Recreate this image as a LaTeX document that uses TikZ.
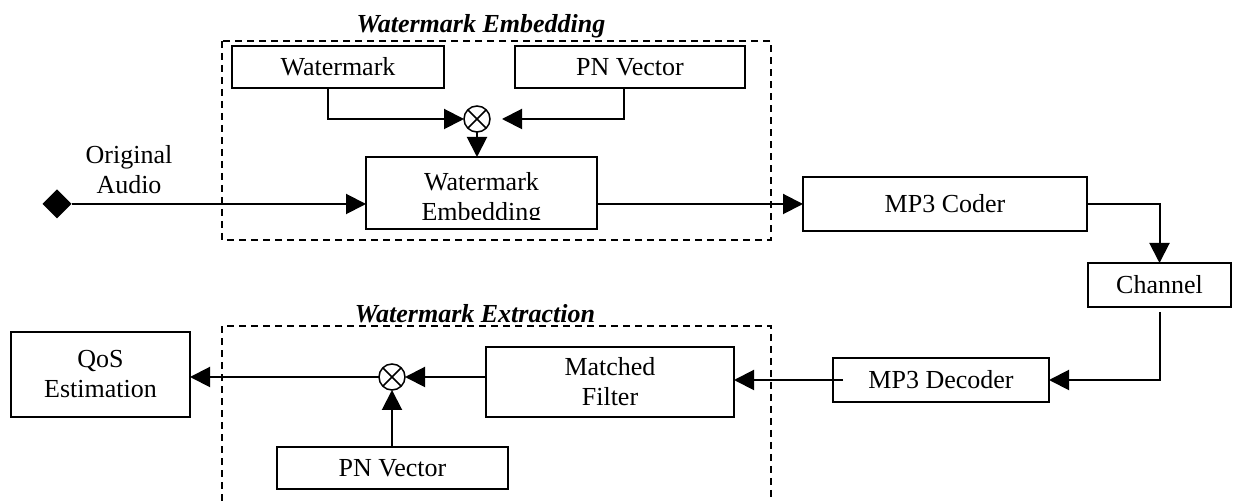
\documentclass[tikz,border=0pt]{standalone}
\usepackage{fontspec}
\setmainfont{Liberation Serif}
\usetikzlibrary{arrows.meta,shapes.geometric,calc}
\begin{document}
\begin{tikzpicture}[x=0.5pt,y=-0.5pt,
  every node/.style={font=\fontsize{13}{15}\selectfont, inner sep=0pt, outer sep=0pt},
  blk/.style={draw, line width=1pt, align=center},
  mult/.style={circle, draw, line width=0.75pt, minimum size=13pt},
  conn/.style={line width=1pt},
  arr/.style={conn, -{Triangle[length=10pt,width=10pt]}},
  grp/.style={dash pattern=on 3.5pt off 2.5pt, line width=0.75pt},
  ttl/.style={font=\fontsize{13}{15}\selectfont\bfseries\itshape, anchor=base}]
\useasboundingbox (0,0) rectangle (1233,501);

% group frames
\draw[grp] (222,41) rectangle (771,240);
\draw[grp] (222,501) -- (222,326) -- (771,326) -- (771,501);
\node[ttl] (t1) at (481,33) {Watermark Embedding};
\node[ttl] (t2) at (475,323) {Watermark Extraction};

% embedding part
\node[blk, minimum width=106pt, minimum height=21pt] (wm) at (338,67) {Watermark};
\node[blk, minimum width=115pt, minimum height=21pt] (pn1) at (630,67) {PN Vector};
\node[mult] (m1) at (477,119) {};
\node[blk, minimum width=115.5pt, minimum height=36pt] (emb) at (481.5,193) {};
\begin{scope}
  \clip (emb.north west) rectangle ($(emb.south east)+(0,-9)$);
  \node[align=center] (embtxt) at (481.5,199) {Watermark\\Embedding};
\end{scope}
\node[diamond, fill, minimum size=14.5pt] (src) at (57,204) {};
\node[align=center] (orig) at (129,170) {Original\\Audio};

% chain
\node[blk, minimum width=142pt, minimum height=27pt] (coder) at (945,204) {MP3 Coder};
\node[blk, minimum width=71.5pt, minimum height=22pt] (chan) at (1159.5,285) {Channel};
\node[blk, minimum width=108pt, minimum height=22pt] (dec) at (941,380) {MP3 Decoder};

% extraction part
\node[blk, minimum width=124pt, minimum height=35pt] (mf) at (610,382) {Matched\\Filter};
\node[mult] (m2) at (392,377) {};
\node[blk, minimum width=115.5pt, minimum height=21pt] (pn2) at (392.5,468) {PN Vector};
\node[blk, minimum width=89.5pt, minimum height=42.5pt] (qos) at (100.5,374.5) {QoS\\Estimation};

% crosses in multipliers
\draw[line width=0.75pt] (m1.north east) -- (m1.south west) (m1.north west) -- (m1.south east);
\draw[line width=0.75pt] (m2.north east) -- (m2.south west) (m2.north west) -- (m2.south east);

% connectors
\draw[arr] ($(wm.south)+(-10,0)$) |- (m1.west);
\draw[arr, shorten >=6pt] ($(pn1.south)+(-6,0)$) |- (m1.east);
\draw[arr] (m1.south) -- (m1.south |- emb.north);
\draw[arr] (src) -- (src -| emb.west);
\draw[arr] (emb.east |- coder.west) -- (coder.west);
\draw[arr] (coder.east) -| (chan.north);
\draw[arr, shorten <=2.5pt] (chan.south) |- (dec.east);
\draw[arr] ($(dec.west)+(10,0)$) -- (mf.east |- dec.west);
\draw[arr] (mf.west |- m2.east) -- (m2.east);
\draw[arr] (m2.west) -- (qos.east |- m2.west);
\draw[arr] (m2.south |- pn2.north) -- (m2.south);
\end{tikzpicture}
\end{document}
